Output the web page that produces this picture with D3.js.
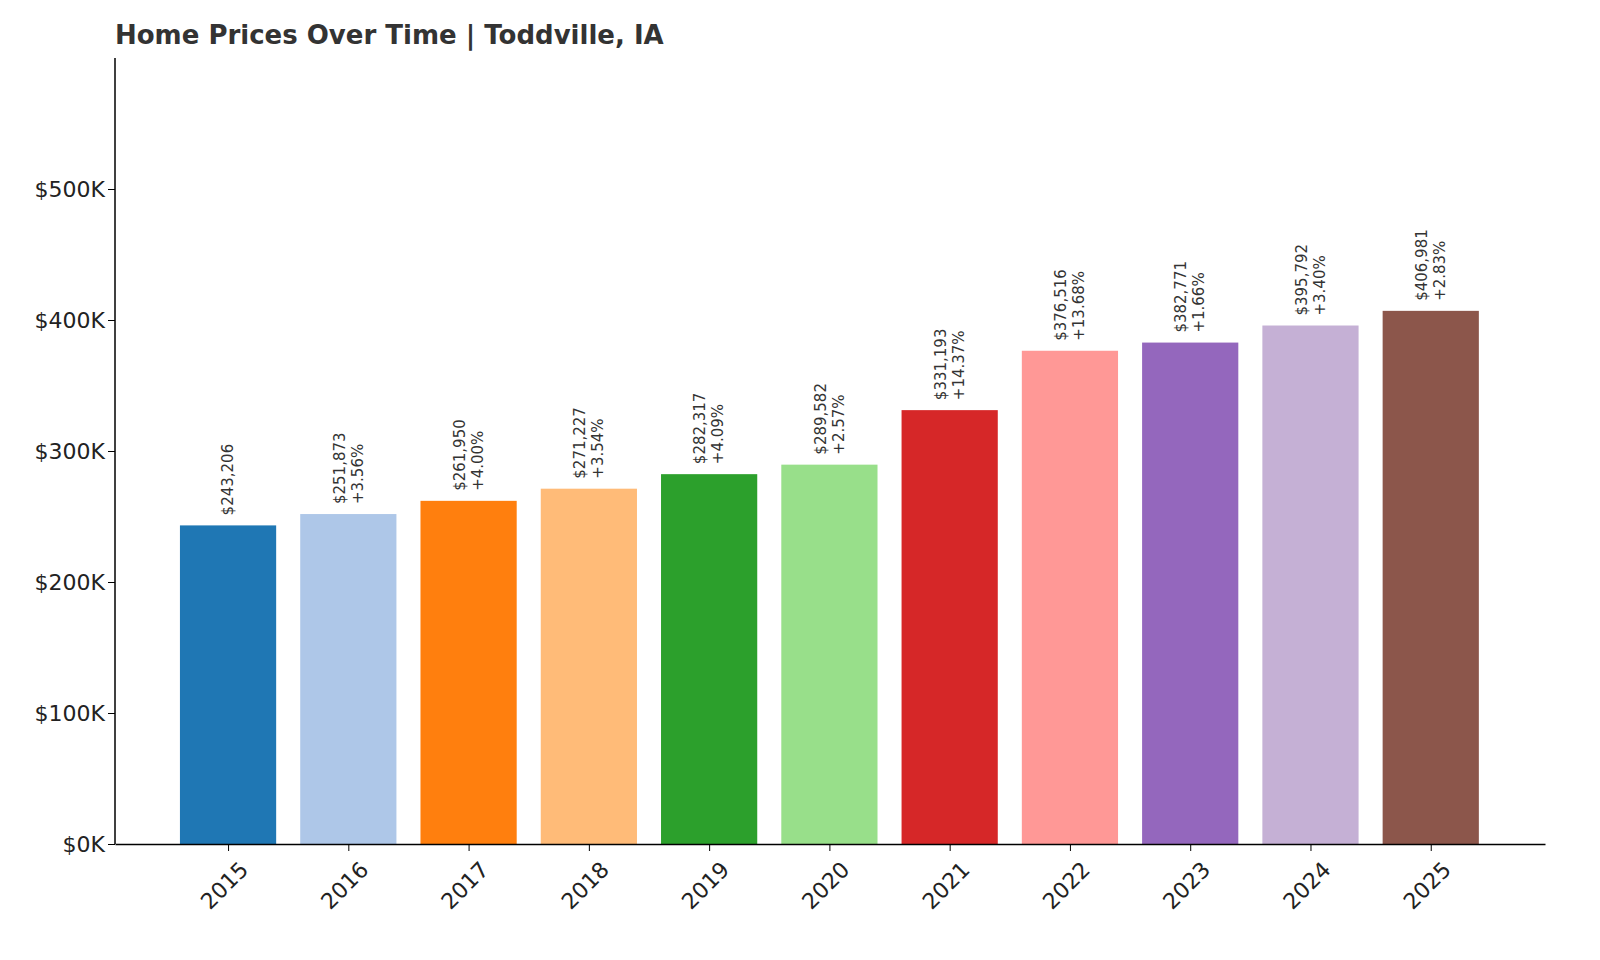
<!DOCTYPE html>
<html><head><meta charset="utf-8">
<script src="https://cdn.jsdelivr.net/npm/d3@7"></script>
<style>body{margin:0;background:#fff;font-family:"DejaVu Sans",sans-serif}</style>
</head><body><svg id="c" width="1600" height="960"></svg>
<script>
var years = ['2015','2016','2017','2018','2019','2020','2021','2022','2023','2024','2025'];
var prices = [243206, 251873, 261950, 271227, 282317, 289582, 331193, 376516, 382771, 395792, 406981];
var changes = [null, '+3.56%', '+4.00%', '+3.54%', '+4.09%', '+2.57%', '+14.37%', '+13.68%', '+1.66%', '+3.40%', '+2.83%'];
var colors = ['#1f77b4','#aec7e8','#ff7f0e','#ffbb78','#2ca02c','#98df8a','#d62728','#ff9896','#9467bd','#c5b0d5','#8c564b'];
var y_ticks = [0, 100000, 200000, 300000, 400000, 500000];

var svg = d3.select('#c');
var plot_left = 115, plot_right = 1545, plot_top = 58, plot_bottom = 844;
var x = d3.scaleLinear().domain([-0.94, 10.95]).range([plot_left, plot_right]);
var y = d3.scaleLinear().domain([0, 600000]).range([plot_bottom, plot_top]);
var bw = x(0.4) - x(-0.4);

svg.append('text').attr('x', 115).attr('y', 44).attr('font-size', 26).attr('font-weight', 'bold')
    .attr('fill', '#333').text('Home Prices Over Time | Toddville, IA');

svg.selectAll('.bar').data(prices).enter().append('rect')
    .attr('x', function (d, i) { return x(i) - bw / 2; })
    .attr('y', function (d) { return y(d); })
    .attr('width', bw)
    .attr('height', function (d) { return plot_bottom - y(d); })
    .attr('fill', function (d, i) { return colors[i]; });

// Rotated value labels
prices.forEach(function (d, i) {
    var t = svg.append('text').attr('font-size', 15).attr('fill', '#333')
        .attr('transform', 'translate(' + x(i) + ',' + (y(d) - 10) + ') rotate(-90)');
    if (changes[i] === null) {
        t.append('tspan').attr('x', 0).attr('dy', '0.35em').text('$' + d3.format(',')(d));
    } else {
        t.append('tspan').attr('x', 0).attr('dy', '-0.25em').text('$' + d3.format(',')(d));
        t.append('tspan').attr('x', 0).attr('dy', '1.2em').text(changes[i]);
    }
});

var yAxis = svg.append('g').attr('transform', 'translate(' + plot_left + ',0)')
    .call(d3.axisLeft(y).tickValues(y_ticks).tickSize(7).tickSizeOuter(0)
        .tickFormat(function (d) { return '$' + d / 1000 + 'K'; }));
yAxis.selectAll('text').attr('font-size', 22).attr('fill', '#222').attr('font-family', '"DejaVu Sans",sans-serif');
yAxis.select('.domain').attr('stroke-width', 1.5).attr('d', 'M0,' + plot_top + 'V' + plot_bottom);

var xAxis = svg.append('g').attr('transform', 'translate(0,' + plot_bottom + ')')
    .call(d3.axisBottom(x).tickValues(d3.range(years.length)).tickSize(7).tickSizeOuter(0)
        .tickFormat(function (d) { return years[d]; }));
xAxis.select('.domain').attr('stroke-width', 1.5);
xAxis.selectAll('text').attr('font-size', 22).attr('fill', '#222').attr('font-family', '"DejaVu Sans",sans-serif')
    .attr('text-anchor', 'end').attr('dy', 0).attr('dx', 0)
    .attr('transform', 'translate(14,20) rotate(-45)');
</script></body></html>
